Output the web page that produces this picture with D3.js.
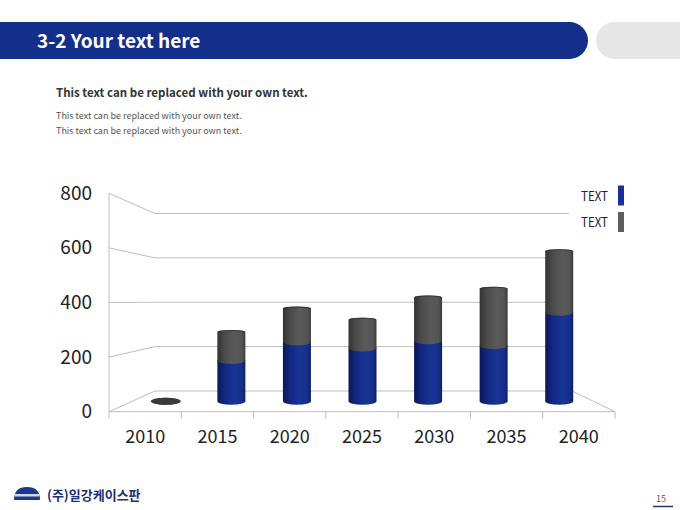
<!DOCTYPE html>
<html>
<head>
<meta charset="utf-8">
<script src="https://cdn.jsdelivr.net/npm/d3@7"></script>
<style>
  body { margin: 0; background: #fff; }
  svg { display: block; font-family: 'Noto Sans CJK KR', 'Noto Sans', sans-serif; }
</style>
</head>
<body>
<svg width="680" height="510"></svg>
<script>
/* global d3 */

const years = ['2010', '2015', '2020', '2025', '2030', '2035', '2040'];
const seriesBlue = [0, 165, 240, 215, 245, 225, 360];
const seriesGray = [0, 115, 135, 115, 175, 230, 247];
const yTicks = [0, 200, 400, 600, 800];
const legendNames = ['TEXT', 'TEXT'];

const svg = d3.select('svg');
const defs = svg.append('defs');

// header
svg.append('rect')
  .attr('x', -30).attr('y', 22).attr('width', 618).attr('height', 37)
  .attr('rx', 18.5).attr('fill', '#132f89');
svg.append('rect')
  .attr('x', 596).attr('y', 22).attr('width', 120).attr('height', 37)
  .attr('rx', 18.5).attr('fill', '#e6e6e6');
svg.append('text')
  .attr('x', 37).attr('y', 48)
  .attr('fill', '#fff')
  .attr('font-size', 19)
  .attr('font-weight', 'bold')
  .text('3-2 Your text here');

// intro text
svg.append('text')
  .attr('x', 56).attr('y', 97)
  .attr('fill', '#333')
  .attr('font-size', 11.5)
  .attr('font-weight', 'bold')
  .text('This text can be replaced with your own text.');
[119, 134].forEach(y => {
  svg.append('text')
    .attr('x', 56).attr('y', y)
    .attr('fill', '#555')
    .attr('font-size', 9)
    .text('This text can be replaced with your own text.');
});

// 3d-ish chart: front plane, back plane, bars at mid depth
const xFront = d3.scaleBand().domain(years).range([109, 615]);
const xMid = d3.scaleBand().domain(years).range([133, 592]);
const yFront = d3.scaleLinear().domain([0, 800]).range([411.7, 193.3]);
const yBack = d3.scaleLinear().domain([0, 800]).range([391, 213.5]);
const yMid = d3.scaleLinear().domain([0, 800]).range([401.3, 203.4]);
const backLeft = 155;
const backRight = 569;

const grid = svg.append('g')
  .attr('class', 'grid')
  .attr('fill', 'none')
  .attr('stroke', '#bdbdbd')
  .attr('stroke-width', 1);

grid.selectAll('path.grid-line')
  .data(yTicks)
  .enter()
  .append('path')
  .attr('class', 'grid-line')
  .attr('d', d => `M109,${yFront(d)}L${backLeft},${yBack(d)}H${d === 0 ? backRight + 3 : backRight}`);

// floor right edge + front axis + left wall edge
grid.append('path')
  .attr('d', `M${backRight + 3},${yBack(0)}L615,${yFront(0)}H109V${yFront(800)}`);

grid.selectAll('line.tick')
  .data(years.concat(['end']))
  .enter()
  .append('line')
  .attr('class', 'tick')
  .attr('x1', (d, i) => xFront.range()[0] + i * xFront.step())
  .attr('x2', (d, i) => xFront.range()[0] + i * xFront.step())
  .attr('y1', yFront(0))
  .attr('y2', yFront(0) + 7);

svg.append('g')
  .selectAll('text')
  .data(yTicks)
  .enter()
  .append('text')
  .attr('x', 92)
  .attr('y', d => yFront(d) + 6.5)
  .attr('text-anchor', 'end')
  .attr('fill', '#222')
  .attr('font-size', 19)
  .text(d => d);

svg.append('g')
  .selectAll('text')
  .data(years)
  .enter()
  .append('text')
  .attr('x', d => xFront(d) + xFront.bandwidth() / 2)
  .attr('y', 443)
  .attr('text-anchor', 'middle')
  .attr('fill', '#222')
  .attr('font-size', 18)
  .text(d => d);

// gradients for the cylinders
const addGrad = (id, stops) => {
  const g = defs.append('linearGradient')
    .attr('id', id)
    .attr('x1', 0).attr('x2', 1).attr('y1', 0).attr('y2', 0);
  stops.forEach(s => {
    g.append('stop').attr('offset', s[0]).attr('stop-color', s[1]);
  });
};
addGrad('blue-grad', [[0, '#0a1852'], [0.25, '#11277f'], [0.6, '#183596'], [0.88, '#142e8a'], [1, '#0c1d60']]);
addGrad('gray-grad', [[0, '#333'], [0.25, '#4a4a4a'], [0.6, '#5a5a5a'], [0.88, '#545454'], [1, '#3a3a3a']]);

const barW = 28;
const ry = 3.5;
const rx = barW / 2;

const segment = (cx, y0, y1, capRy) => {
  const l = cx - rx;
  const r = cx + rx;
  return `M${l},${y1}V${y0}A${rx},${ry} 0 0 0 ${r},${y0}V${y1}A${rx},${capRy} 0 0 0 ${l},${y1}Z`;
};

const barData = years.map((y, i) => ({
  year: y,
  blue: seriesBlue[i],
  gray: seriesGray[i]
}));

const bars = svg.append('g')
  .attr('class', 'bars')
  .selectAll('g')
  .data(barData)
  .enter()
  .append('g');

const cxOf = d => xMid(d.year) + xMid.bandwidth() / 2;

bars.append('path')
  .attr('fill', 'url(#blue-grad)')
  .attr('d', d => segment(cxOf(d), yMid(0), yMid(d.blue), ry));

bars.append('path')
  .attr('fill', 'url(#gray-grad)')
  .attr('d', d => segment(cxOf(d), yMid(d.blue), yMid(d.blue + d.gray), 2));

// flat lid only shows on zero bar; others get a thin rim
bars.filter(d => d.blue + d.gray === 0)
  .append('ellipse')
  .attr('cx', cxOf)
  .attr('cy', yMid(0))
  .attr('rx', rx + 1)
  .attr('ry', ry)
  .attr('fill', '#3a3a3a');

bars.filter(d => d.blue + d.gray > 0)
  .append('path')
  .attr('fill', 'none')
  .attr('stroke', '#2e2e2e')
  .attr('stroke-width', 0.8)
  .attr('d', d => {
    const y = yMid(d.blue + d.gray);
    const cx = cxOf(d);
    return `M${cx - rx + 0.5},${y}A${rx},2 0 0 1 ${cx + rx - 0.5},${y}`;
  });

// legend
const legend = svg.append('g')
  .attr('class', 'legend')
  .selectAll('g')
  .data(legendNames)
  .enter()
  .append('g')
  .attr('transform', (d, i) => `translate(0,${i * 26.5})`);

legend.append('text')
  .attr('x', 581)
  .attr('y', 200.5)
  .attr('fill', '#222')
  .attr('font-size', 13.5)
  .attr('textLength', 27)
  .attr('lengthAdjust', 'spacingAndGlyphs')
  .text(d => d);

legend.append('rect')
  .attr('x', 618)
  .attr('y', 185.5)
  .attr('width', 6)
  .attr('height', 20)
  .attr('fill', (d, i) => (i === 0 ? '#16319a' : '#5e5e5e'));

// footer
const logo = svg.append('g').attr('class', 'logo');
logo.append('path')
  .attr('d', 'M14,500 Q14,487 27,487 Q40,487 40,500 Z')
  .attr('fill', '#1d3a8a');
logo.append('rect')
  .attr('x', 15).attr('y', 494).attr('width', 24).attr('height', 2.5)
  .attr('fill', '#fff').attr('opacity', 0.8);

svg.append('text')
  .attr('x', 47).attr('y', 500)
  .attr('fill', '#1d2f75')
  .attr('font-size', 13)
  .attr('font-weight', 'bold')
  .text('(주)일강케이스판');

svg.append('text')
  .attr('x', 661).attr('y', 502)
  .attr('text-anchor', 'middle')
  .attr('fill', '#555')
  .attr('font-size', 9)
  .text('15');
svg.append('line')
  .attr('x1', 653).attr('x2', 673)
  .attr('y1', 506.5).attr('y2', 506.5)
  .attr('stroke', '#1d2f75')
  .attr('stroke-width', 1.5);
</script>
</body>
</html>
